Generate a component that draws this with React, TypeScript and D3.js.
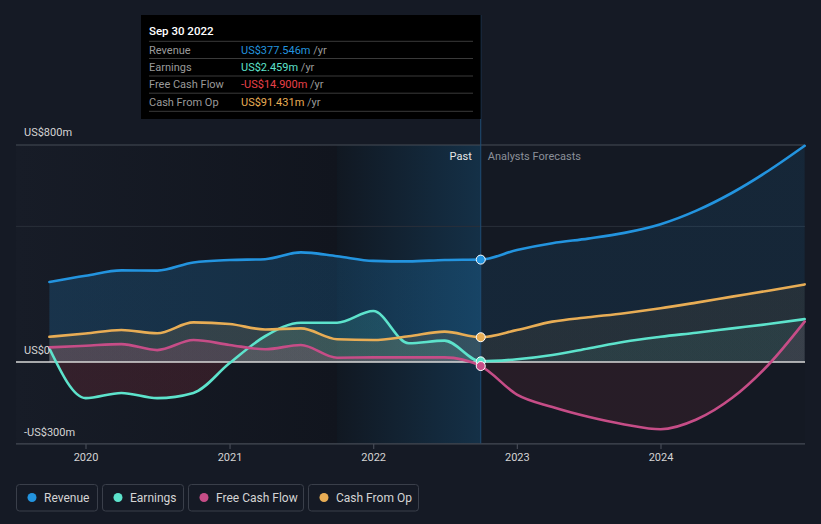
import React from "react";
import * as d3 from "d3";

const W = 821;
const H = 524;

const dates = [
  "2019-09-30", "2019-12-31", "2020-03-31", "2020-06-30", "2020-09-30",
  "2020-12-31", "2021-03-31", "2021-06-30", "2021-09-30", "2021-12-31",
  "2022-03-31", "2022-06-30", "2022-09-30",
  "2022-12-31", "2023-03-31", "2023-06-30", "2023-09-30", "2023-12-31",
  "2024-03-31", "2024-06-30", "2024-09-30", "2024-12-31",
];

const revenue = [295, 318, 338, 337, 367, 376, 379, 404, 390, 373, 371, 376, 377.5,
  413, 438, 455, 476, 508, 558, 624, 705, 797];
const earnings = [50, -133, -114, -133, -114, -4, 95, 145, 145, 188, 69, 79, 2.5,
  10, 26, 50, 75, 93, 108, 124, 140, 158];
const freeCashFlow = [54, 60, 66, 44, 81, 63, 47, 63, 16, 17, 17, 17, -14.9,
  -120, -166, -202, -230, -248, -212, -132, -10, 149];
const cashFromOp = [93, 105, 118, 106, 146, 140, 120, 124, 84, 81, 95, 112, 91.4,
  118, 149, 165, 180, 198, 219, 241, 263, 286];

const yTicks = [800, 500, 0];
const yLabels = [
  { v: 800, t: "US$800m" },
  { v: 0, t: "US$0" },
  { v: -300, t: "-US$300m" },
];
const xYears = [2020, 2021, 2022, 2023, 2024];

const seriesNames = ["Revenue", "Earnings", "Free Cash Flow", "Cash From Op"];
const seriesColors = ["#2394df", "#5de3cc", "#c64d87", "#e8ad55"];
const seriesData = [revenue, earnings, freeCashFlow, cashFromOp];

const tooltipDate = "Sep 30 2022";
const tooltipValues = ["US$377.546m", "US$2.459m", "-US$14.900m", "US$91.431m"];
const tooltipValueColors = ["#2394df", "#5de3cc", "#e8414a", "#e8ad55"];

const FONT = "Roboto, 'Noto Sans', sans-serif";

export default function App() {
  const parse = d3.timeParse("%Y-%m-%d");
  const ds = dates.map((d) => parse(d) as Date);
  const x = d3
    .scaleTime()
    .domain([new Date(2020, 0, 1), new Date(2024, 0, 1)])
    .range([86, 661]);
  const y = d3.scaleLinear().domain([-300, 800]).range([443.4, 145]);
  const y0 = y(0);
  const nowX = x(parse("2022-09-30") as Date);
  const left = 16;
  const right = 805;
  const hlStart = x(parse("2021-09-30") as Date);

  const line = (vals: number[]) =>
    d3
      .line<number>()
      .x((_, i) => x(ds[i]))
      .y((v) => y(v))
      .curve(d3.curveMonotoneX)(vals) as string;
  const area = (vals: number[]) =>
    d3
      .area<number>()
      .x((_, i) => x(ds[i]))
      .y0(y0)
      .y1((v) => y(v))
      .curve(d3.curveMonotoneX)(vals) as string;

  const posAlpha = [0.2, 0.14, 0.16, 0.14];
  const negColor = "#d23c4a";
  const frac = (nowX - left) / (right - left);

  const legendItems: { x: number; w: number }[] = [];
  {
    const widths = [81, 81, 115, 110];
    let cx = 16;
    widths.forEach((w) => {
      legendItems.push({ x: cx, w });
      cx += w + 5;
    });
  }

  return (
    <svg width={W} height={H} style={{ display: "block", position: "absolute", left: 0, top: 0 }} fontFamily={FONT}>
      <defs>
        <linearGradient id="pastBg" x1="0" x2="1" y1="0" y2="0">
          <stop offset="0" stopColor="#171c27" />
          <stop offset="1" stopColor="#11151e" />
        </linearGradient>
        <linearGradient id="hlBg" x1="0" x2="1" y1="0" y2="0">
          <stop offset="0" stopColor="#2394df" stopOpacity={0.03} />
          <stop offset="1" stopColor="#2394df" stopOpacity={0.22} />
        </linearGradient>
        {seriesColors.map((c, i) => (
          <linearGradient key={i} id={`pos${i}`} gradientUnits="userSpaceOnUse" x1={left} x2={right} y1="0" y2="0">
            <stop offset="0" stopColor={c} stopOpacity={posAlpha[i]} />
            <stop offset={frac} stopColor={c} stopOpacity={posAlpha[i]} />
            <stop offset={frac} stopColor={c} stopOpacity={posAlpha[i] * 0.55} />
            <stop offset="1" stopColor={c} stopOpacity={posAlpha[i] * 0.55} />
          </linearGradient>
        ))}
        <linearGradient id="neg" gradientUnits="userSpaceOnUse" x1={left} x2={right} y1="0" y2="0">
          <stop offset="0" stopColor={negColor} stopOpacity={0.16} />
          <stop offset={frac} stopColor={negColor} stopOpacity={0.16} />
          <stop offset={frac} stopColor={negColor} stopOpacity={0.1} />
          <stop offset="1" stopColor={negColor} stopOpacity={0.1} />
        </linearGradient>
        <clipPath id="above">
          <rect x={0} y={0} width={W} height={y0} />
        </clipPath>
        <clipPath id="below">
          <rect x={0} y={y0} width={W} height={H - y0} />
        </clipPath>
      </defs>

      <rect x={0} y={0} width={W} height={H} fill="#151a25" />
      <rect x={left} y={145} width={hlStart - left} height={443.4 - 145} fill="url(#pastBg)" />
      <rect x={hlStart} y={145} width={nowX - hlStart} height={443.4 - 145} fill="#10141c" />
      <rect x={hlStart} y={145} width={nowX - hlStart} height={443.4 - 145} fill="url(#hlBg)" />
      <rect x={nowX} y={145} width={right - nowX} height={443.4 - 145} fill="#141923" />

      {/* grid */}
      {yTicks.filter((v) => v !== 0).map((v) => (
        <line key={v} x1={left} x2={right} y1={y(v)} y2={y(v)} stroke={v === 800 ? "#474c57" : "#2a2f3a"} strokeWidth={1} />
      ))}

      {/* areas */}
      {seriesData.map((vals, i) => (
        <g key={i}>
          <path d={area(vals)} fill={`url(#pos${i})`} clipPath="url(#above)" />
          <path d={area(vals)} fill="url(#neg)" clipPath="url(#below)" />
        </g>
      ))}

      {/* zero line */}
      <line x1={left} x2={right} y1={y0} y2={y0} stroke="#d9d9d9" strokeWidth={1.3} />

      {/* x axis */}
      <line x1={left} x2={right} y1={443.9} y2={443.9} stroke="#454a55" strokeWidth={1.2} />
      {xYears.map((yr) => {
        const xx = x(new Date(yr, 0, 1));
        return (
          <g key={yr}>
            <line x1={xx} x2={xx} y1={444} y2={449} stroke="#454a55" strokeWidth={1.2} />
            <text x={xx} y={461} textAnchor="middle" fill="#d4d4d4" fontSize={11}>
              {yr}
            </text>
          </g>
        );
      })}

      {/* tooltip vertical line */}
      <line x1={nowX} x2={nowX} y1={15} y2={443.4} stroke="#1f4e76" strokeWidth={1} />

      {/* lines */}
      {seriesData.map((vals, i) => (
        <path key={i} d={line(vals)} fill="none" stroke={seriesColors[i]} strokeWidth={2.6} strokeLinecap="round" />
      ))}

      {/* dots */}
      {[0, 3, 1, 2].map((i) => (
        <circle key={i} cx={nowX} cy={y(seriesData[i][12])} r={4.5} fill={seriesColors[i]} stroke="#ffffff" strokeWidth={1} />
      ))}

      {/* y labels */}
      {yLabels.map((l) => (
        <text key={l.v} x={24} y={y(l.v) - (l.v === 800 ? 9 : l.v === 0 ? 8 : 7)} fill="#d4d4d4" fontSize={11}>
          {l.t}
        </text>
      ))}

      {/* past / forecast */}
      <text x={nowX - 9} y={160} textAnchor="end" fill="#e8e8e8" fontSize={11}>
        Past
      </text>
      <text x={nowX + 7} y={160} fill="#8b9099" fontSize={11}>
        Analysts Forecasts
      </text>

      {/* tooltip */}
      <rect x={141} y={15} width={nowX - 141} height={104} fill="#000000" />
      <text x={149} y={35} fill="#ffffff" fontSize={11.5} fontWeight={500}>
        {tooltipDate}
      </text>
      {[41.3, 58.5, 76, 93.2, 111.3].map((yy, i) => (
        <line key={i} x1={149} x2={473} y1={yy} y2={yy} stroke="#3a3a3a" strokeWidth={1} />
      ))}
      {seriesNames.map((n, i) => {
        const base = 53.5 + i * 17.4;
        return (
          <g key={n}>
            <text x={149} y={base} fill="#9a9a9a" fontSize={11}>
              {n}
            </text>
            <text x={241} y={base} fontSize={11}>
              <tspan fill={tooltipValueColors[i]}>{tooltipValues[i]}</tspan>
              <tspan fill="#9a9a9a"> /yr</tspan>
            </text>
          </g>
        );
      })}

      {/* legend */}
      {legendItems.map((it, i) => (
        <g key={i}>
          <rect x={it.x + 0.5} y={484.5} width={it.w} height={26.5} rx={3} fill="none" stroke="#3a3f4a" strokeWidth={1} />
          <circle cx={it.x + 16} cy={497.5} r={4.5} fill={seriesColors[i]} />
          <text x={it.x + 28} y={501.5} fill="#d4d4d4" fontSize={12}>
            {seriesNames[i]}
          </text>
        </g>
      ))}
    </svg>
  );
}
